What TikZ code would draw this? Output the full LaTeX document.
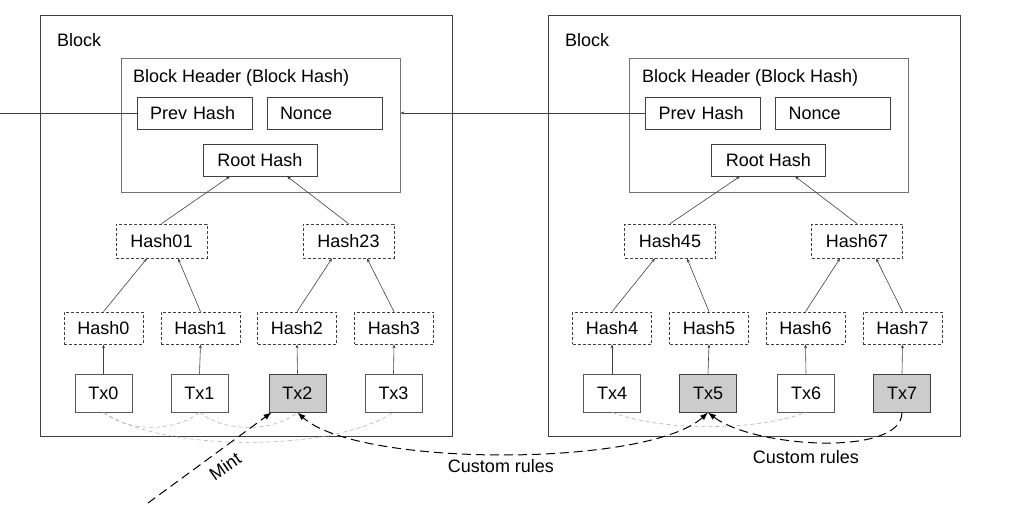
\documentclass[tikz,border=0pt]{standalone}
\usepackage{fontspec}
\setmainfont{Liberation Sans}
\usetikzlibrary{arrows.meta}
\begin{document}
\begin{tikzpicture}[x=1pt,y=-1pt,
  every node/.style={font=\fontsize{18}{21}\selectfont},
  blk/.style={draw=black!75, line width=0.8pt, minimum width=412pt, minimum height=421pt, inner sep=0pt},
  hdr/.style={draw=black!55, line width=0.7pt, minimum width=279pt, minimum height=134pt, inner sep=0pt},
  lbl/.style={anchor=west, inner sep=0pt},
  field/.style={draw=black!75, line width=0.7pt, minimum height=32pt, inner ysep=0pt},
  leftfield/.style={field, minimum width=115pt, text width=89pt, inner xsep=13pt, align=left},
  rootbox/.style={field, minimum width=114pt, inner xsep=0pt},
  hashtop/.style={draw=black!75, line width=0.7pt, dash pattern=on 3pt off 2pt, minimum width=91pt, minimum height=34pt, inner sep=0pt},
  hashleaf/.style={draw=black!75, line width=0.7pt, dash pattern=on 3pt off 2pt, minimum width=79pt, minimum height=32pt, inner sep=0pt},
  tx/.style={draw=black!65, line width=0.7pt, minimum width=57pt, minimum height=38pt, inner sep=0pt},
  txg/.style={tx, fill=black!20, draw=black!75, line width=0.9pt},
  link/.style={draw=black!75, line width=0.6pt, -{Stealth[length=4pt,width=3pt]}},
  plain/.style={draw=black!75, line width=0.7pt},
  faint/.style={draw=black!30, line width=0.6pt, dash pattern=on 4pt off 3pt},
  rule/.style={draw=black, line width=1pt, dash pattern=on 9pt off 5pt},
  tip/.style={-{Latex[length=8pt,width=6pt]}}
]
\useasboundingbox (0,0) rectangle (1010,523);

% ---------- left block ----------
\node[blk] (blockL) at (246,225.5) {};
\node[lbl] (blabelL) at (57,40) {Block};
\node[hdr] (hdrL) at (260.5,125) {};
\node[lbl] (hlabelL) at (133,78) {Block Header (Block Hash)};
\node[leftfield] (prevL) at (194.5,113) {Prev Hash};
\node[leftfield] (nonceL) at (324.5,113) {Nonce};
\node[rootbox] (rootL) at (260,160) {Root Hash};
\node[hashtop] (h01) at (161.5,241) {Hash01};
\node[hashtop] (h23) at (348.5,241) {Hash23};
\node[hashleaf] (h0) at (103.5,328) {Hash0};
\node[hashleaf] (h1) at (200.5,328) {Hash1};
\node[hashleaf] (h2) at (297,328) {Hash2};
\node[hashleaf] (h3) at (394,328) {Hash3};
\node[tx] (tx0) at (103.5,393) {Tx0};
\node[tx] (tx1) at (199.5,393) {Tx1};
\node[txg] (tx2) at (297.5,393) {Tx2};
\node[tx] (tx3) at (393.5,393) {Tx3};

% ---------- right block ----------
\node[blk] (blockR) at (754.5,225.5) {};
\node[lbl] (blabelR) at (565,40) {Block};
\node[hdr] (hdrR) at (769,125) {};
\node[lbl] (hlabelR) at (642,78) {Block Header (Block Hash)};
\node[leftfield] (prevR) at (703,113) {Prev Hash};
\node[leftfield] (nonceR) at (833,113) {Nonce};
\node[rootbox] (rootR) at (768.5,160) {Root Hash};
\node[hashtop] (h45) at (670,241) {Hash45};
\node[hashtop] (h67) at (857,241) {Hash67};
\node[hashleaf] (h4) at (612,328) {Hash4};
\node[hashleaf] (h5) at (709,328) {Hash5};
\node[hashleaf] (h6) at (805.5,328) {Hash6};
\node[hashleaf] (h7) at (902.5,328) {Hash7};
\node[tx] (tx4) at (612,393) {Tx4};
\node[txg] (tx5) at (708,393) {Tx5};
\node[tx] (tx6) at (806,393) {Tx6};
\node[txg] (tx7) at (902,393) {Tx7};

% ---------- merkle links ----------
\foreach \t/\h in {tx0/h0, tx1/h1, tx2/h2, tx3/h3, tx4/h4, tx5/h5, tx6/h6, tx7/h7}
  \draw[link] (\t.north) -- (\h.south);
\draw[link] (h0.north) -- ([xshift=-14.5pt]h01.south);
\draw[link] (h1.north) -- ([xshift=16.5pt]h01.south);
\draw[link] (h2.north) -- ([xshift=-16.5pt]h23.south);
\draw[link] (h3.north) -- ([xshift=18.5pt]h23.south);
\draw[link] (h01.north) -- ([xshift=-30pt]rootL.south);
\draw[link] (h23.north) -- ([xshift=27pt]rootL.south);
\draw[link] (h4.north) -- ([xshift=-15pt]h45.south);
\draw[link] (h5.north) -- ([xshift=17pt]h45.south);
\draw[link] (h6.north) -- ([xshift=-17pt]h67.south);
\draw[link] (h7.north) -- ([xshift=19pt]h67.south);
\draw[link] (h45.north) -- ([xshift=-28.5pt]rootR.south);
\draw[link] (h67.north) -- ([xshift=26.5pt]rootR.south);

% ---------- chain links ----------
\coordinate (edgeL) at (0,113);
\draw[plain] (prevL.west) -- (edgeL);
\draw[link] (prevR.west) -- (hdrL.east |- prevR.west);

% ---------- faint relations ----------
\draw[faint] (tx0.south) .. controls +(25,20) and +(-25,20) .. (tx1.south);
\draw[faint] (tx1.south) .. controls +(25,20) and +(-25,20) .. (tx2.south);
\draw[faint] (tx0.south) .. controls +(60,40) and +(-60,40) .. (tx3.south);
\draw[faint] (tx4.south) .. controls +(50,19) and +(-50,19) .. (tx6.south);

% ---------- custom rules and mint ----------
\draw[rule, {Latex[length=8pt,width=6pt]}-{Latex[length=8pt,width=6pt]}] (tx5.south) .. controls +(-60,55) and +(60,55) .. (tx2.south);
\draw[rule, tip] (tx7.south) .. controls +(0,45) and +(45,35) .. (tx5.south);
\node (cr1) at (501,466) {Custom rules};
\node (cr2) at (806,457) {Custom rules};
\coordinate (mintstart) at (148,503);
\draw[rule, tip] (mintstart) -- ([xshift=3pt]tx2.south west);
\node[rotate=35, inner sep=0pt] (mintlbl) at (225,466) {Mint};
\end{tikzpicture}
\end{document}
